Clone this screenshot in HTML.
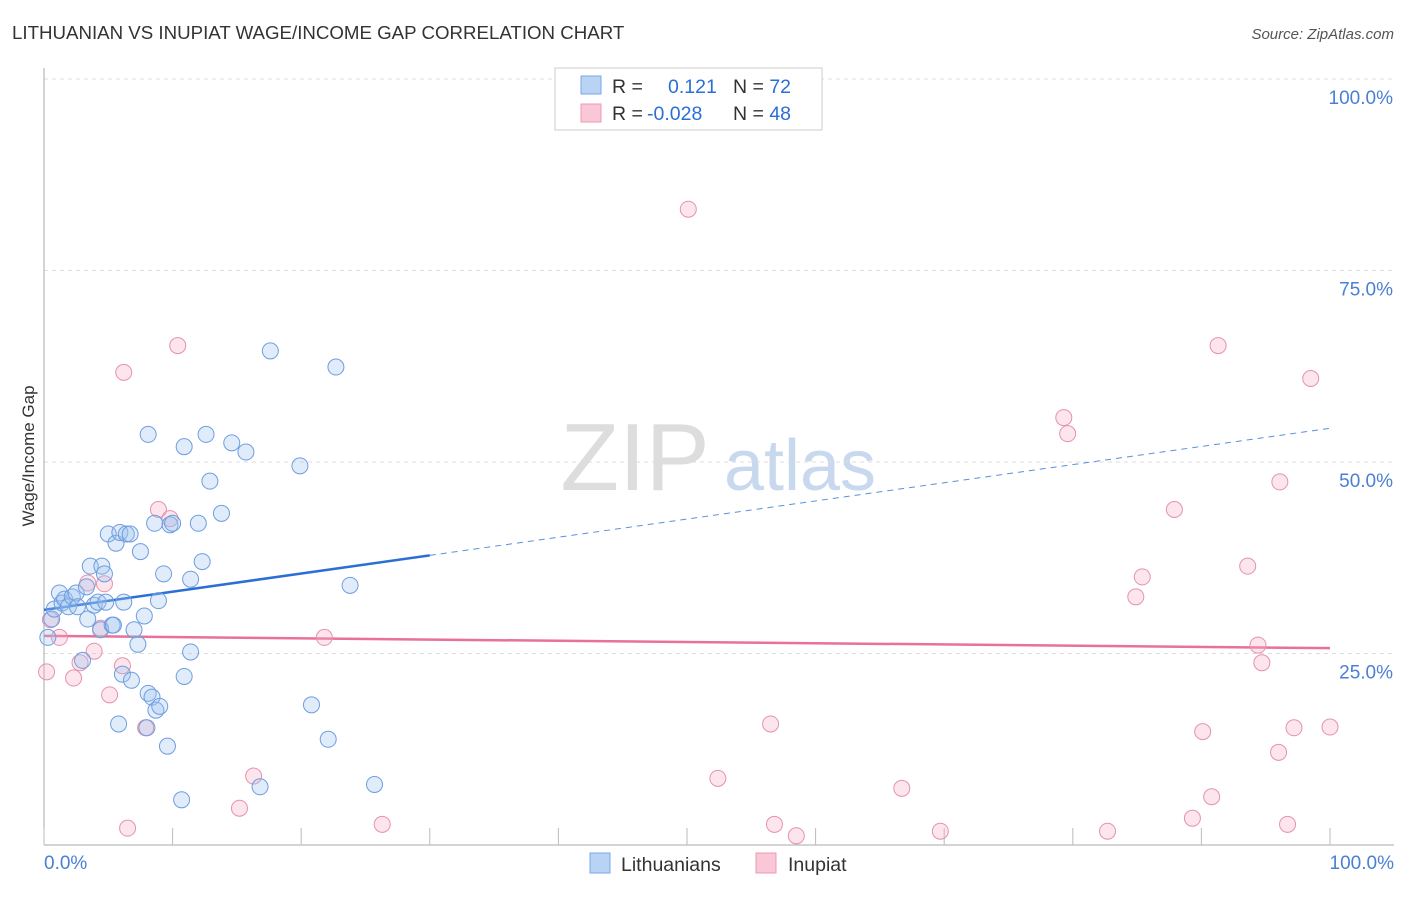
<!DOCTYPE html>
<html><head><meta charset="utf-8"><style>
body{margin:0;background:#fff;font-family:"Liberation Sans",sans-serif;}
svg text{font-family:"Liberation Sans",sans-serif;}
</style></head><body>
<svg width="1406" height="892" id="chart">
<text x="12" y="39" font-size="18.7" fill="#333">LITHUANIAN VS INUPIAT WAGE/INCOME GAP CORRELATION CHART</text>
<text x="1394" y="39" font-size="15" fill="#555" text-anchor="end" font-style="italic">Source: ZipAtlas.com</text>
<text x="635" y="490" font-size="96" fill="#ddd" font-family="Liberation Serif" text-anchor="middle">ZIP</text>
<text x="800" y="490" font-size="72" fill="#c8d8ee" text-anchor="middle">atlas</text>
<g id="grid"></g><g id="axes"></g><g id="lines"></g><g id="pts"></g>
<text transform="translate(34,456) rotate(-90)" font-size="17" fill="#333" text-anchor="middle">Wage/Income Gap</text>
<text x="44" y="869" font-size="19" fill="#4a7fd4">0.0%</text>
<text x="1394" y="869" font-size="19" fill="#4a7fd4" text-anchor="end">100.0%</text>
<g>
<rect x="555" y="68" width="267" height="62" fill="#fff" stroke="#ccc"/>
<rect x="581" y="76" width="20" height="18" fill="#b9d3f5" stroke="#7aa7e6"/>
<rect x="581" y="104" width="20" height="18" fill="#f9c7d6" stroke="#ec9ab4"/>
<text x="612" y="93" font-size="19.5" fill="#333">R = <tspan fill="#2a6fd6" x="668">0.121</tspan><tspan x="733" fill="#333">N = </tspan><tspan fill="#2a6fd6">72</tspan></text>
<text x="612" y="120" font-size="19.5" fill="#333">R = <tspan fill="#2a6fd6" x="647">-0.028</tspan><tspan x="733" fill="#333">N = </tspan><tspan fill="#2a6fd6">48</tspan></text>
</g>
<g>
<rect x="590" y="853" width="20" height="20" fill="#b9d3f5" stroke="#7aa7e6"/>
<text x="621" y="871" font-size="19.5" fill="#333">Lithuanians</text>
<rect x="756" y="853" width="20" height="20" fill="#f9c7d6" stroke="#ec9ab4"/>
<text x="788" y="871" font-size="19.5" fill="#333">Inupiat</text>
</g>
</svg>
<script>
const yTicks=[25,50,75,100];
const yTickLabels=["25.0%","50.0%","75.0%","100.0%"];
const xTicks=[0,10,20,30,40,50,60,70,80,90,100];
const blueX=[0.3,0.6,0.8,1.2,1.4,1.6,1.9,2.2,2.5,2.6,3,3.3,3.4,3.6,3.9,4.2,4.4,4.5,4.7,4.8,5,5.3,5.4,5.6,5.9,6.1,6.2,5.8,6.4,6.7,6.8,7,7.3,7.5,7.8,8,8.1,8.1,8.4,8.6,8.7,8.9,9,9.3,9.6,9.8,10,10.7,10.9,10.9,11.4,11.4,12,12.3,12.6,12.9,13.8,14.6,15.7,16.8,17.6,19.9,20.8,22.1,22.7,23.8,25.7];
const blueY=[27.1,29.5,30.8,32.9,31.6,32.1,31.1,32.4,32.9,31.1,24.1,33.7,29.5,36.4,31.3,31.7,28.1,36.4,35.4,31.7,40.6,28.7,28.7,39.4,40.8,22.3,31.7,15.8,40.6,40.6,21.5,28.1,26.2,38.3,29.9,15.3,53.6,19.8,19.3,42,17.6,31.9,18.1,35.4,12.9,41.8,42,5.9,52,22,34.7,25.2,42,37,53.6,47.5,43.3,52.5,51.3,7.6,64.5,49.5,18.3,13.8,62.4,33.9,7.9];
const pinkX=[0.2,0.5,1.2,2.3,2.8,3.4,3.9,4.4,4.7,5.1,6.1,6.2,6.5,7.9,8.9,9.8,10.4,15.2,16.3,21.8,26.3,50.1,52.4,56.5,56.8,58.5,66.7,69.7,79.3,79.6,82.7,84.9,85.4,87.9,89.3,90.1,90.8,91.3,93.6,94.4,94.7,96,96.1,96.7,97.2,98.5,100];
const pinkY=[22.6,29.4,27.1,21.8,23.8,34.2,25.3,28.3,34.1,19.6,23.4,61.7,2.2,15.3,43.8,42.6,65.2,4.8,9,27.1,2.7,83,8.7,15.8,2.7,1.2,7.4,1.8,55.8,53.7,1.8,32.4,35,43.8,3.5,14.8,6.3,65.2,36.4,26.1,23.8,12.1,47.4,2.7,15.3,60.9,15.4];
const blueLine=[30.7,54.4], pinkLine=[27.3,25.7];
const X=v=>44+v*12.86, Y=v=>845-v*7.66;
const NS="http://www.w3.org/2000/svg";
function mk(t,a,p){const e=document.createElementNS(NS,t);for(const k in a)e.setAttribute(k,a[k]);p.appendChild(e);return e;}
const grid=document.getElementById('grid');
yTicks.forEach((t,i)=>{
 const l=mk('line',{x1:44,x2:1394,y1:Y(t),y2:Y(t),stroke:'#ddd','stroke-dasharray':'4,4'},grid);
 
 
 const tx=mk('text',{x:1393,y:Y(t)+25,'font-size':19,fill:'#4a7fd4','text-anchor':'end'},grid);
 tx.textContent=yTickLabels[i];
 
 
});
const ax=document.getElementById('axes');
mk('line',{x1:44,x2:44,y1:68,y2:845,stroke:'#aaa'},ax);
mk('line',{x1:44,x2:1394,y1:845,y2:845,stroke:'#aaa'},ax);
xTicks.forEach(t=>{const l=mk('line',{x1:X(t),x2:X(t),y1:828,y2:845,stroke:'#bbb'},ax);
 
 });
const pts=document.getElementById('pts');
pinkX.forEach((x,i)=>{const c=mk('circle',{cx:X(x),cy:Y(pinkY[i]),r:8,fill:'rgba(245,175,198,0.32)',stroke:'#e592ae','stroke-width':1},pts);
 
 });
blueX.forEach((x,i)=>{const c=mk('circle',{cx:X(x),cy:Y(blueY[i]),r:8,fill:'rgba(160,195,240,0.32)',stroke:'#6e9de0','stroke-width':1},pts);
 
 });
const ln=document.getElementById('lines');
const by=x=>blueLine[0]+(blueLine[1]-blueLine[0])*x/100;
let b1=mk('line',{x1:X(0),y1:Y(by(0)),x2:X(30),y2:Y(by(30)),stroke:'#2b6fd6','stroke-width':2.5},ln);


let b2=mk('line',{x1:X(30),y1:Y(by(30)),x2:X(100),y2:Y(by(100)),stroke:'#5a8fdc','stroke-width':1,'stroke-dasharray':'6,5'},ln);


let p1=mk('line',{x1:X(0),y1:Y(pinkLine[0]),x2:X(100),y2:Y(pinkLine[1]),stroke:'#e8709a','stroke-width':2.5},ln);


</script>
</body></html>
